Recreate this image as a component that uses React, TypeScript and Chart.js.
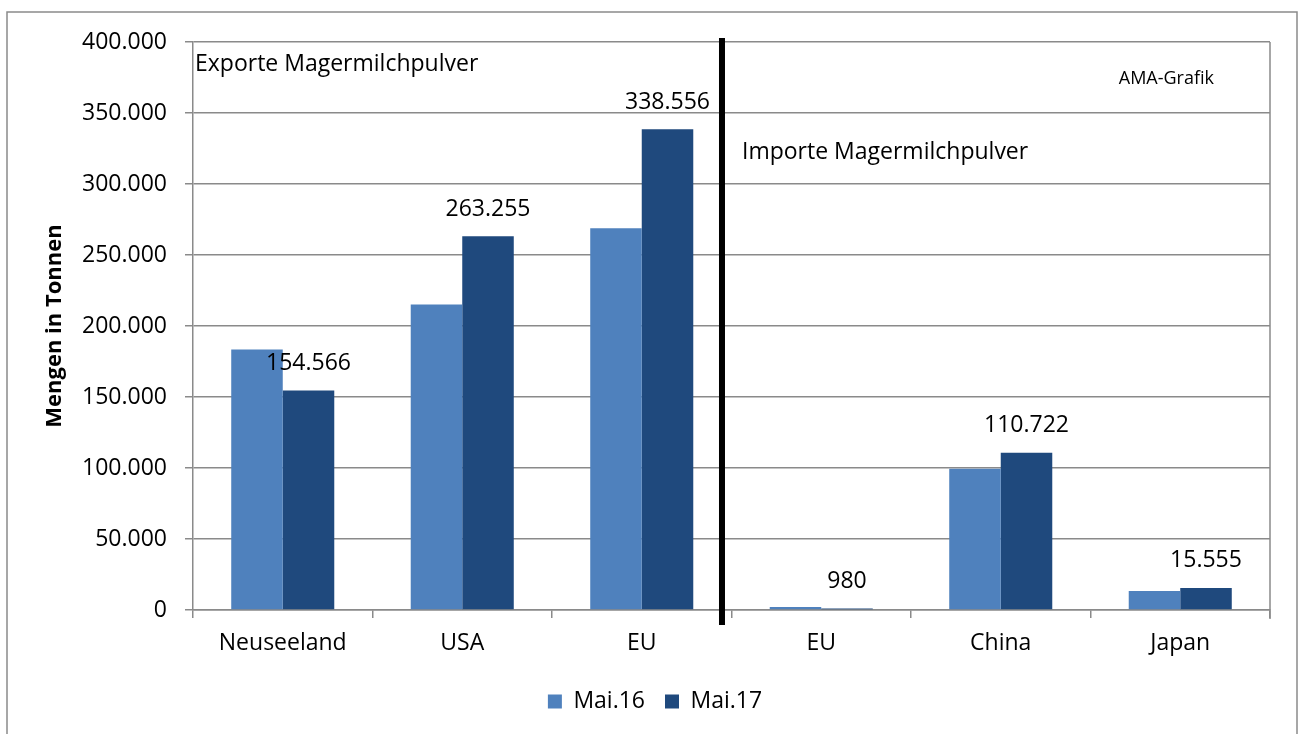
import React, { useEffect, useRef } from "react";
import { Chart, registerables } from "chart.js";

Chart.register(...registerables);

const categories = ["Neuseeland", "USA", "EU", "EU", "China", "Japan"];
const seriesNames = ["Mai.16", "Mai.17"];
const mai16 = [183400, 215200, 268800, 2100, 99500, 13400];
const mai17 = [154566, 263255, 338556, 980, 110722, 15555];
const yTicks = [0, 50000, 100000, 150000, 200000, 250000, 300000, 350000, 400000];
const exportLabel = "Exporte Magermilchpulver";
const importLabel = "Importe Magermilchpulver";
const sourceLabel = "AMA-Grafik";
const yTitle = "Mengen in Tonnen";

const FONT = "'Open Sans'";
const GRID = "#8a8a8a";

function fmt(v: number): string {
  return String(Math.round(v)).replace(/\B(?=(\d{3})+(?!\d))/g, ".");
}

const decorPlugin = {
  id: "decor",
  beforeDraw(chart: any) {
    const { ctx } = chart;
    ctx.save();
    ctx.strokeStyle = GRID;
    ctx.lineWidth = 1.5;
    ctx.strokeRect(7, 12, 1290, 740);
    ctx.restore();
  },
  afterDatasetsDraw(chart: any) {
    const { ctx, chartArea } = chart;
    const x = chart.scales.x;
    const y = chart.scales.y;
    ctx.save();
    // right border of plot area
    ctx.strokeStyle = GRID;
    ctx.lineWidth = 1.5;
    ctx.beginPath();
    ctx.moveTo(chartArea.right, chartArea.top);
    ctx.lineTo(chartArea.right, chartArea.bottom + 9);
    ctx.stroke();

    // data labels for Mai.17
    const meta = chart.getDatasetMeta(1);
    ctx.fillStyle = "#000";
    ctx.font = `23px ${FONT}`;
    ctx.textAlign = "center";
    ctx.textBaseline = "middle";
    meta.data.forEach((bar: any, i: number) => {
      ctx.fillText(fmt(mai17[i]), bar.x, bar.y - 27);
    });

    // separator line
    const sx = x.getPixelForValue(2.447);
    ctx.fillStyle = "#000";
    ctx.fillRect(sx - 3, chartArea.top - 4, 6, chartArea.bottom - chartArea.top + 19);

    // annotations
    ctx.textAlign = "left";
    ctx.font = `23px ${FONT}`;
    ctx.fillText(exportLabel, chartArea.left + 2, y.getPixelForValue(384000));
    ctx.fillText(importLabel, sx + 20, y.getPixelForValue(322000));
    ctx.font = `18px ${FONT}`;
    ctx.textAlign = "right";
    ctx.fillText(sourceLabel, chartArea.right - 56, y.getPixelForValue(374000));
    ctx.restore();
  },
};

export default function App() {
  const ref = useRef<HTMLCanvasElement>(null);
  useEffect(() => {
    if (!ref.current) return;
    const chart = new Chart(ref.current, {
      type: "bar",
      data: {
        labels: categories,
        datasets: [
          {
            label: seriesNames[0],
            data: mai16,
            backgroundColor: "#4f81bd",
            barPercentage: 1,
            categoryPercentage: 0.574,
          },
          {
            label: seriesNames[1],
            data: mai17,
            backgroundColor: "#1f497d",
            barPercentage: 1,
            categoryPercentage: 0.574,
          },
        ],
      },
      options: {
        animation: false,
        responsive: false,
        maintainAspectRatio: false,
        layout: { padding: { left: 40, top: 42, right: 31, bottom: 11 } },
        plugins: {
          legend: {
            position: "bottom",
            labels: {
              boxWidth: 14,
              boxHeight: 14,
              padding: 20,
              color: "#000",
              font: { family: FONT, size: 23 },
            },
          },
          tooltip: { enabled: false },
        },
        scales: {
          x: {
            grid: {
              display: true,
              drawOnChartArea: false,
              drawTicks: true,
              tickLength: 8,
              color: GRID,
              lineWidth: 1.5,
            },
            border: { color: GRID, width: 1.5 },
            ticks: {
              color: "#000",
              padding: 12,
              font: { family: FONT, size: 23 },
              maxRotation: 0,
            },
            afterFit: (scale: any) => {
              scale.height = 60;
            },
          },
          y: {
            min: 0,
            max: 400000,
            afterBuildTicks: (scale: any) => {
              scale.ticks = yTicks.map((v) => ({ value: v }));
            },
            grid: {
              color: GRID,
              lineWidth: 1.5,
              tickLength: 8,
            },
            border: { color: GRID, width: 1.5 },
            ticks: {
              color: "#000",
              padding: 18,
              font: { family: FONT, size: 23 },
              callback: (v: any) => fmt(Number(v)),
            },
            title: {
              display: true,
              text: yTitle,
              color: "#000",
              font: { family: FONT, size: 22, weight: "bold" },
              padding: { top: 2, bottom: 0 },
            },
            afterFit: (scale: any) => {
              scale.width = 153;
            },
          },
        },
      },
      plugins: [decorPlugin],
    });
    return () => chart.destroy();
  }, []);
  return (
    <div style={{ position: "absolute", left: 0, top: 0, width: 1301, height: 734, overflow: "hidden", background: "#fff" }}>
      <canvas ref={ref} width={1301} height={734} style={{ width: 1301, height: 734, display: "block" }} />
    </div>
  );
}
